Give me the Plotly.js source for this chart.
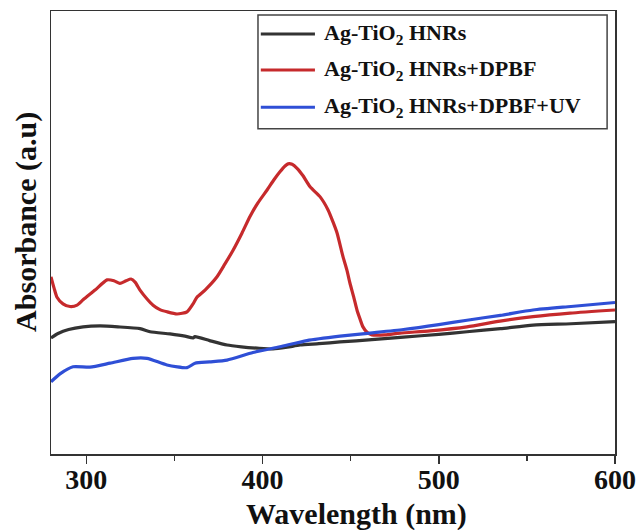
<!DOCTYPE html>
<html>
<head>
<meta charset="utf-8">
<script src="https://cdn.plot.ly/plotly-3.0.1.min.js"></script>
<style>html,body{margin:0;padding:0;background:#fff;}#chart{width:638px;height:530px;}</style>
</head>
<body>
<div id="chart"></div>
<script>
// Wavelength (nm) and absorbance (a.u.)
const blackX = [280, 284, 290, 298.2, 307.8, 318, 330.5, 336.2, 347.5, 356, 360.6, 361.7, 370, 379.9, 388, 396.9, 406, 414, 421.3, 432, 444, 462, 480, 500, 516, 535, 553.5, 575, 600];
const blackY = [0.262, 0.272, 0.281, 0.287, 0.289, 0.287, 0.283, 0.276, 0.271, 0.266, 0.262, 0.265, 0.256, 0.246, 0.242, 0.239, 0.237, 0.241, 0.246, 0.249, 0.253, 0.258, 0.264, 0.270, 0.276, 0.283, 0.291, 0.294, 0.299];

const redX = [280, 281.7, 283.4, 286.8, 290.8, 294.8, 298.2, 305, 311.8, 315.7, 319.1, 322.6, 325.4, 327.7, 330.5, 334.5, 337.9, 341.8, 345.8, 351.5, 357.2, 360.6, 362.8, 367.4, 374.2, 378.7, 383.3, 388.4, 392.9, 397.4, 402.6, 406.5, 409.9, 412.8, 414.5, 416.8, 419.6, 423, 427, 432.6, 437.2, 440, 442.3, 445.7, 447.9, 449.6, 451.9, 453.6, 455.3, 457, 459.3, 462.1, 469.5, 478, 495, 516, 534.8, 553.5, 574.5, 600];
const redY = [0.400, 0.375, 0.354, 0.339, 0.333, 0.336, 0.348, 0.370, 0.393, 0.391, 0.385, 0.391, 0.395, 0.388, 0.370, 0.350, 0.336, 0.326, 0.321, 0.316, 0.321, 0.339, 0.354, 0.370, 0.400, 0.429, 0.460, 0.499, 0.536, 0.567, 0.596, 0.619, 0.637, 0.650, 0.655, 0.654, 0.645, 0.628, 0.603, 0.581, 0.551, 0.524, 0.499, 0.445, 0.415, 0.386, 0.352, 0.325, 0.305, 0.287, 0.275, 0.269, 0.269, 0.273, 0.278, 0.287, 0.300, 0.310, 0.318, 0.325];

const blueX = [280, 285.1, 292.5, 302.1, 313.5, 326.5, 334.5, 345.8, 357.2, 361.7, 370, 379.9, 394.6, 409.9, 425.2, 444, 461, 480, 500, 516, 535, 553.5, 575, 600];
const blueY = [0.163, 0.181, 0.197, 0.196, 0.205, 0.216, 0.216, 0.201, 0.195, 0.205, 0.208, 0.212, 0.229, 0.242, 0.256, 0.266, 0.273, 0.281, 0.292, 0.302, 0.313, 0.325, 0.333, 0.342];

const seriesNames = ['Ag-TiO<sub>2</sub> HNRs', 'Ag-TiO<sub>2</sub> HNRs+DPBF', 'Ag-TiO<sub>2</sub> HNRs+DPBF+UV'];
const seriesColors = ['#333333', '#c62a2c', '#2f4fd6'];

const serif = 'Liberation Serif, Times New Roman, serif';
const xs = [blackX, redX, blueX];
const ys = [blackY, redY, blueY];
const traces = xs.map((x, i) => ({
  x: x, y: ys[i], type: 'scatter', mode: 'lines',
  name: seriesNames[i], showlegend: false,
  line: {color: seriesColors[i], width: 3.2, shape: 'spline', smoothing: 0.6}
}));

// Legend drawn as a boxed key (paper coordinates)
const legendRowsY = [0.948, 0.867, 0.783];
const shapes = [
  {type: 'rect', xref: 'paper', yref: 'paper', x0: 0.367, x1: 0.986, y0: 0.734, y1: 0.991,
   line: {color: '#444', width: 1.5}, fillcolor: '#fff', layer: 'above'}
];
const annotations = [
  {text: 'Wavelength (nm)', xref: 'paper', yref: 'paper', x: 0.541, y: -0.135, xanchor: 'center', yanchor: 'middle', showarrow: false,
   font: {family: serif, size: 30, color: '#111', weight: 'bold'}},
  {text: 'Absorbance (a.u)', xref: 'paper', yref: 'paper', x: -0.0443, y: 0.524, xanchor: 'center', yanchor: 'middle', textangle: -90, showarrow: false,
   font: {family: serif, size: 30, color: '#111', weight: 'bold'}}
];
seriesNames.forEach((n, i) => {
  shapes.push({type: 'line', xref: 'paper', yref: 'paper', x0: 0.372, x1: 0.468, y0: legendRowsY[i], y1: legendRowsY[i],
    line: {color: seriesColors[i], width: 3}, layer: 'above'});
  annotations.push({text: n, xref: 'paper', yref: 'paper', x: 0.480, y: legendRowsY[i], xanchor: 'left', yanchor: 'middle', showarrow: false,
    font: {family: serif, size: 22, color: '#111', weight: 'bold'}});
});

const layout = {
  width: 638, height: 530,
  margin: {l: 51, r: 23, t: 11, b: 76},
  paper_bgcolor: '#fff', plot_bgcolor: '#fff',
  showlegend: false,
  xaxis: {
    range: [280, 600], tickmode: 'linear', tick0: 300, dtick: 100,
    ticks: 'outside', ticklen: 8, tickwidth: 1.5, tickcolor: '#333',
    ticklabelstandoff: -8,
    showline: true, linecolor: '#333', linewidth: 1.5, mirror: true,
    showgrid: false, zeroline: false,
    tickfont: {family: serif, size: 28, color: '#111', weight: 'bold'},
    minor: {tickmode: 'linear', tick0: 300, dtick: 50, ticks: 'outside', ticklen: 5, tickwidth: 1.5, tickcolor: '#333', showgrid: false}
  },
  yaxis: {
    range: [0, 1], showticklabels: false, ticks: '',
    showline: true, linecolor: '#333', linewidth: 1.5, mirror: true,
    showgrid: false, zeroline: false
  },
  shapes: shapes,
  annotations: annotations
};

Plotly.newPlot('chart', traces, layout, {displayModeBar: false, staticPlot: true});
</script>
</body>
</html>
